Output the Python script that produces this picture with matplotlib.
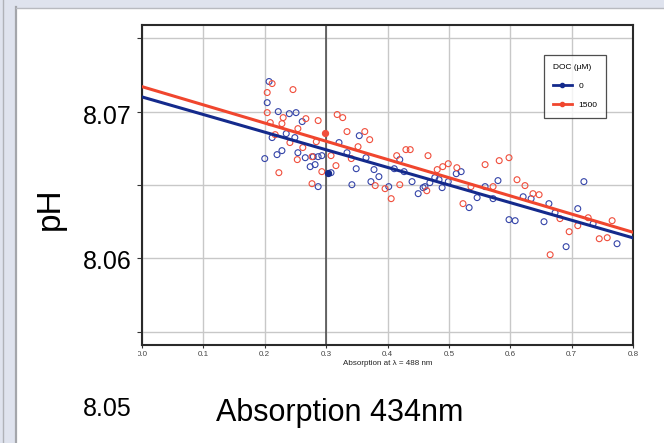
import matplotlib.pyplot as plt
import matplotlib.patches as patches
from matplotlib.lines import Line2D
import numpy as np

plt.rcParams['font.family'] = ['Liberation Sans', 'DejaVu Sans']

W, H = 664, 443

# values
doc_labels = ['0', '1500']
xticks = [0.0, 0.1, 0.2, 0.3, 0.4, 0.5, 0.6, 0.7, 0.8]
yticks = [8.055, 8.06, 8.065, 8.07, 8.075]

blue_x = [0.207, 0.204, 0.222, 0.240, 0.251, 0.261, 0.235, 0.212, 0.249, 0.228,
          0.220, 0.200, 0.254, 0.266, 0.279, 0.287, 0.293, 0.274, 0.282, 0.308,
          0.321, 0.334, 0.354, 0.365, 0.349, 0.287, 0.342, 0.373, 0.378, 0.386,
          0.402, 0.411, 0.420, 0.427, 0.440, 0.450, 0.461, 0.469, 0.477, 0.484,
          0.512, 0.520, 0.458, 0.489, 0.499, 0.533, 0.546, 0.559, 0.572, 0.580,
          0.598, 0.608, 0.621, 0.634, 0.655, 0.663, 0.673, 0.710, 0.720, 0.691,
          0.735, 0.774]
blue_y = [8.07205, 8.07061, 8.07000, 8.06986, 8.06993, 8.06932, 8.06850, 8.06823, 8.06823, 8.06734,
          8.06707, 8.06680, 8.06720, 8.06686, 8.06693, 8.06693, 8.06700, 8.06625, 8.06639, 8.06584,
          8.06789, 8.06720, 8.06836, 8.06686, 8.06611, 8.06489, 8.06502, 8.06523, 8.06605, 8.06557,
          8.06489, 8.06611, 8.06673, 8.06591, 8.06523, 8.06441, 8.06489, 8.06516, 8.06550, 8.06536,
          8.06577, 8.06591, 8.06482, 8.06482, 8.06523, 8.06346, 8.06414, 8.06489, 8.06407, 8.06530,
          8.06264, 8.06257, 8.06420, 8.06407, 8.06250, 8.06373, 8.06311, 8.06339, 8.06523, 8.06080,
          8.06236, 8.06100]

red_x = [0.212, 0.204, 0.246, 0.204, 0.230, 0.209, 0.228, 0.267, 0.287, 0.254,
         0.217, 0.241, 0.262, 0.284, 0.318, 0.327, 0.334, 0.363, 0.371, 0.352,
         0.253, 0.277, 0.308, 0.341, 0.223, 0.293, 0.316, 0.277, 0.380, 0.396,
         0.406, 0.420, 0.415, 0.430, 0.437, 0.466, 0.481, 0.490, 0.499, 0.513,
         0.464, 0.523, 0.536, 0.559, 0.572, 0.582, 0.598, 0.611, 0.624, 0.637,
         0.647, 0.665, 0.681, 0.696, 0.710, 0.727, 0.745, 0.758, 0.766]
red_y = [8.07191, 8.07130, 8.07150, 8.06993, 8.06959, 8.06925, 8.06918, 8.06952, 8.06939, 8.06884,
         8.06843, 8.06789, 8.06755, 8.06795, 8.06980, 8.06959, 8.06864, 8.06864, 8.06809, 8.06761,
         8.06673, 8.06693, 8.06700, 8.06680, 8.06584, 8.06591, 8.06632, 8.06509, 8.06496, 8.06475,
         8.06407, 8.06502, 8.06700, 8.06741, 8.06741, 8.06700, 8.06605, 8.06625, 8.06645, 8.06618,
         8.06461, 8.06373, 8.06489, 8.06639, 8.06489, 8.06666, 8.06686, 8.06536, 8.06496, 8.06441,
         8.06434, 8.06025, 8.06271, 8.06182, 8.06223, 8.06277, 8.06134, 8.06141, 8.06257]

# highlighted (filled) points at 0.3
hl_x = [0.303, 0.298]
hl_y = [8.06584, 8.06857]

# regression lines: intercept, slope
fit_blue = (8.0710, -0.0120)
fit_red = (8.0717, -0.0124)

blue_line = '#142a8c'
blue_pt = '#3444a8'
red_line = '#f0462e'
red_pt = '#f04e3c'


def fx(px):
    return px / W


def fy(py):
    return 1 - py / H


fig = plt.figure(figsize=(W / 100, H / 100), dpi=100)
fig.patch.set_facecolor('#dfe3ee')

# slide page
fig.add_artist(patches.Rectangle((fx(17), 0), 1, fy(8), transform=fig.transFigure,
                                 facecolor='white', edgecolor='none', zorder=0))
fig.add_artist(Line2D([fx(16), fx(16)], [0, fy(7)], transform=fig.transFigure,
                      color='#a4a6ab', lw=1.6))
fig.add_artist(Line2D([fx(16), 1], [fy(7.5), fy(7.5)], transform=fig.transFigure,
                      color='#b8bac0', lw=1.0))
fig.add_artist(Line2D([fx(2.5), fx(2.5)], [0, 1], transform=fig.transFigure,
                      color='#b0b2b8', lw=1.0))

ax = fig.add_axes([fx(142), fy(345), fx(633) - fx(142), fy(25) - fy(345)])
ax.set_xlim(0, 0.8)
ax.set_ylim(8.0541, 8.0759)

ax.set_xticks(xticks)
ax.set_xticklabels(['%.1f' % v for v in xticks], fontsize=5.8, color='#444444')
ax.set_yticks(yticks)
ax.set_yticklabels([])
ax.tick_params(axis='x', length=2.5, width=0.8, pad=1.5, color='#333333')
ax.tick_params(axis='y', length=3.5, width=0.8, color='#333333')
ax.grid(True, color='#c8c8c8', lw=1.0, zorder=0)
ax.set_axisbelow(True)
for s in ax.spines.values():
    s.set_color('#2a2a2a')
    s.set_linewidth(1.5)

# the pasted chart image is cut just left of its axis
crop = patches.Rectangle((fx(138), 0), 1, 1, transform=fig.transFigure)
for lab in ax.get_xticklabels():
    lab.set_clip_path(crop)
    lab.set_clip_on(True)

ax.axvline(0.3, color='#444444', lw=1.1, zorder=1)

ax.scatter(blue_x, blue_y, s=18, facecolors='none', edgecolors=blue_pt, linewidths=0.8, zorder=2)
ax.scatter(red_x, red_y, s=18, facecolors='none', edgecolors=red_pt, linewidths=0.8, zorder=2)
ax.scatter(hl_x[:1], hl_y[:1], s=18, color=blue_line, zorder=2)
ax.scatter(hl_x[1:], hl_y[1:], s=18, color=red_pt, zorder=2)

xs = np.array([0.0, 0.8])
ax.plot(xs, fit_red[0] + fit_red[1] * xs, color=red_line, lw=2.2, zorder=3)
ax.plot(xs, fit_blue[0] + fit_blue[1] * xs, color=blue_line, lw=2.2, zorder=3)

ax.set_xlabel('Absorption at \u03bb = 488 nm', fontsize=5.8, color='#222222', labelpad=2)

handles = [Line2D([], [], color=blue_line, lw=2, marker='o', ms=3),
           Line2D([], [], color=red_line, lw=2, marker='o', ms=3)]
leg = ax.legend(handles, doc_labels, title='DOC (\u00b5M)', loc='upper left',
                bbox_to_anchor=((544 - 142) / 491, (345 - 55) / 320),
                fontsize=6, title_fontsize=6, frameon=True, fancybox=False,
                edgecolor='#222222', borderpad=1.1, handlelength=2.2,
                labelspacing=1.3, alignment='left', borderaxespad=0)
leg.get_frame().set_linewidth(0.9)

# slide text laid over the chart
fig.text(fx(132), fy(117), '8.07', fontsize=18, ha='right', va='center')
fig.text(fx(132), fy(262), '8.06', fontsize=18, ha='right', va='center')
fig.text(fx(132), fy(409), '8.05', fontsize=18, ha='right', va='center')
fig.text(fx(50), fy(209), 'pH', fontsize=24, rotation=90, ha='center', va='center')
fig.text(fx(216), fy(413), 'Absorption 434nm', fontsize=22, ha='left', va='center')

fig.savefig('out.png', dpi=100, facecolor=fig.get_facecolor())
